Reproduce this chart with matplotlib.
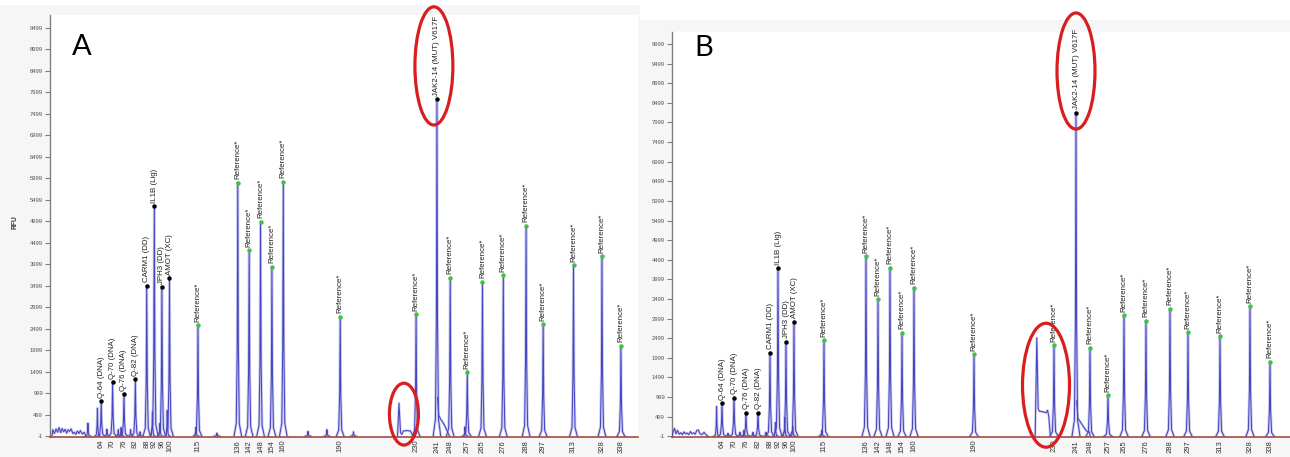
import matplotlib
matplotlib.use("Agg")
import matplotlib.pyplot as plt
from matplotlib.patches import Ellipse, Rectangle

plt.rcParams['font.family'] = ['Liberation Sans', 'DejaVu Sans']

# ---------------- data ----------------
size_ticks = [64, 70, 76, 82, 88, 92, 96, 100, 115, 136, 142, 148, 154, 160,
              190, 230, 241, 248, 257, 265, 276, 288, 297, 313, 328, 338]

gene_sizes = [64, 70, 76, 82, 88, 92, 96, 100, 241]
gene_names = ['Q-64 (DNA)', 'Q-70 (DNA)', 'Q-76 (DNA)', 'Q-82 (DNA)', 'CARM1 (DD)',
              'IL1B (Lig)', 'JPH3 (DD)', 'AMOT (XC)', 'JAK2-14 (MUT) V617F']
gene_rfu_a = [815, 1255, 980, 1330, 3500, 5350, 3470, 3680, 7840]
gene_rfu_b = [845, 985, 595, 595, 2125, 4280, 2405, 2915, 8250]

ref_sizes = [115, 136, 142, 148, 154, 160, 190, 230, 248, 257, 265, 276, 288, 297, 313, 328, 338]
ref_name = 'Reference*'
ref_rfu_a = [2585, 5900, 4330, 4990, 3940, 5920, 2780, 2835, 3690, 1490, 3590, 3750, 4900, 2600, 3980, 4190, 2100]
ref_rfu_b = [2450, 4590, 3490, 4295, 2635, 3790, 2085, 2320, 2250, 1045, 3085, 2940, 3255, 2645, 2550, 3315, 1895]

# minor (unlabelled) peaks and shoulders
minor_a_bp = [57.0, 62.0, 67.0, 73.0, 74.5, 79.5, 84.5, 91.0, 95.0, 98.8, 114.0, 125.0, 173.0, 183.0, 197.0, 255.8]
minor_a_rfu = [300, 650, 160, 150, 200, 150, 100, 565, 300, 600, 215, 70, 110, 150, 100, 217]
minor_b_bp = [61.3, 67.0, 73.0, 75.0, 79.5, 86.0, 90.7, 95.4, 99.4, 114.0]
minor_b_rfu = [755, 75, 100, 150, 100, 100, 350, 485, 260, 160]

# low-level noise at the start of the run
noise_a_bp = [38.0, 38.5, 39.3, 40.2, 41.0, 41.8, 42.6, 43.4, 44.2, 45.0, 45.8, 46.6, 47.4,
              48.2, 49.0, 49.8, 50.6, 51.4, 52.2, 53.0, 54.0, 55.0, 56.0]
noise_a_rfu = [0, 150, 60, 170, 90, 200, 80, 180, 100, 160, 70, 150, 110,
               170, 60, 90, 40, 120, 60, 130, 50, 90, 0]
noise_b_bp = [39.0, 39.6, 40.3, 41.0, 41.8, 42.6, 43.4, 44.2, 45.0, 45.8, 46.6, 47.4,
              48.2, 49.0, 49.8, 50.6, 51.4, 52.2, 53.0, 54.0, 55.0, 56.0, 57.0]
noise_b_rfu = [0, 120, 200, 60, 150, 50, 90, 40, 110, 60, 80, 40,
               120, 60, 90, 50, 150, 160, 60, 40, 100, 40, 0]

# artefact peak (left ellipse) and JAK2 tail
artefact_a_bp = [220.2, 221.0, 221.8, 222.5, 223.3, 225.0, 227.0, 228.0, 228.8]
artefact_a_rfu = [0, 765, 80, 40, 120, 130, 120, 40, 0]
artefact_b_bp = [220.6, 221.4, 222.1, 222.6, 224.5, 226.0, 226.8, 227.4, 228.2]
artefact_b_rfu = [0, 2510, 700, 640, 620, 600, 660, 500, 0]
tail_a_bp = [241.3, 242.0, 243.0, 244.0, 245.0, 246.0, 247.0, 247.6]
tail_a_rfu = [900, 480, 390, 330, 250, 160, 60, 0]
tail_b_bp = [241.3, 242.0, 243.0, 244.0, 245.0, 246.0, 247.0, 247.4, 247.8, 248.0]
tail_b_rfu = [900, 450, 380, 300, 220, 150, 100, 110, 110, 0]

yticks_a = list(range(-1, 9500, 500))
yticks_b = list(range(-1, 10000, 500))

# highlight ellipses (centre bp, centre RFU, width bp, height RFU)
ellipses_a = [(239.4, 8615, 20, 2750), (223.6, 512, 15.3, 1440)]
ellipses_b = [(241.0, 9310, 19, 2960), (226.0, 1300, 23.5, 3160)]

# ---------------- style ----------------
W, H = 1290, 457
TRACE = '#4646c2'
HALO = '#cdcdf0'
BASE = '#a24a44'
PEAK_DX = [-2.0, -0.8, -0.3, 0.0, 0.3, 0.8, 2.0]
PEAK_FR = [0.0, 0.05, 0.35, 1.0, 0.35, 0.05, 0.0]

fig = plt.figure(figsize=(W / 100, H / 100), dpi=100)
fig.patches.append(Rectangle((0, 0), 640 / W, (H - 5) / H, transform=fig.transFigure,
                             facecolor='#f6f6f6', edgecolor='none', zorder=-10))
fig.patches.append(Rectangle((638 / W, 0), (W - 638) / W, (H - 20) / H, transform=fig.transFigure,
                             facecolor='#f6f6f6', edgecolor='none', zorder=-10))


def draw_peak(ax, x, h, scale=1.0):
    xs = [x + d * scale for d in PEAK_DX]
    ys = [h * f for f in PEAK_FR]
    ax.plot(xs, ys, color=HALO, lw=2.0, solid_joinstyle='round', zorder=2)
    ax.plot(xs, ys, color=TRACE, lw=0.75, zorder=3)


def draw_trace(ax, xs, ys):
    ax.plot(xs, ys, color=HALO, lw=1.8, zorder=2)
    ax.plot(xs, ys, color=TRACE, lw=0.75, zorder=3)


def panel(rect, xlim, ylim, yticks, gene_rfu, ref_rfu, minor_bp, minor_rfu,
          noise_bp, noise_rfu, art_bp, art_rfu, tail_bp, tail_rfu, ellipses, letter, letter_xy):
    ax = fig.add_axes(rect)
    ax.set_facecolor('white')
    ax.set_xlim(*xlim)
    ax.set_ylim(*ylim)
    for s in ['top', 'right']:
        ax.spines[s].set_visible(False)
    ax.spines['left'].set_color('#808080')
    ax.spines['left'].set_linewidth(1.0)
    ax.spines['bottom'].set_color(BASE)
    ax.spines['bottom'].set_linewidth(1.2)
    ax.spines['bottom'].set_zorder(5)
    ax.set_yticks(yticks)
    ax.set_yticklabels([str(v) for v in yticks], fontsize=4.2, color='#555555')
    ax.tick_params(axis='y', length=3.5, width=0.8, color='#808080', pad=1.5)
    ax.set_xticks(size_ticks)
    ax.set_xticklabels([str(v) for v in size_ticks], rotation=90, fontsize=5.5, color='#333333')
    ax.tick_params(axis='x', length=0, pad=2)

    draw_trace(ax, noise_bp, noise_rfu)
    for x, h in zip(minor_bp, minor_rfu):
        draw_peak(ax, x, h, 0.7)
    draw_trace(ax, art_bp, art_rfu)
    draw_trace(ax, tail_bp, tail_rfu)
    for x, h in zip(gene_sizes, gene_rfu):
        draw_peak(ax, x, h)
    for x, h in zip(ref_sizes, ref_rfu):
        draw_peak(ax, x, h)

    ax.plot(gene_sizes, gene_rfu, 'o', ms=2.2, color='black', zorder=6)
    ax.plot(ref_sizes, ref_rfu, 'o', ms=2.2, color='#3fc43f', zorder=6)
    for x, h, name in zip(gene_sizes, gene_rfu, gene_names):
        ax.annotate(name, (x, h), xytext=(0, 2.5), textcoords='offset points', rotation=90,
                    ha='center', va='bottom', fontsize=5.7, color='#222222', zorder=7)
    for x, h in zip(ref_sizes, ref_rfu):
        ax.annotate(ref_name, (x, h), xytext=(0, 2.5), textcoords='offset points', rotation=90,
                    ha='center', va='bottom', fontsize=5.7, color='#222222', zorder=7)

    for cx, cy, w, hgt in ellipses:
        ax.add_patch(Ellipse((cx, cy), w, hgt, fill=False, edgecolor='#d81e1e', lw=2.3,
                             clip_on=False, zorder=8))
    fig.text(letter_xy[0] / W, 1 - letter_xy[1] / H, letter, fontsize=21, family='Lato',
             ha='center', va='center', color='black')
    return ax


ax_a = panel([50 / W, 20 / H, 588 / W, 422 / H], (37, 347), (-20, 9800), yticks_a,
             gene_rfu_a, ref_rfu_a, minor_a_bp, minor_a_rfu, noise_a_bp, noise_a_rfu,
             artefact_a_bp, artefact_a_rfu, tail_a_bp, tail_a_rfu, ellipses_a, 'A', (82, 47))
ax_b = panel([672 / W, 20 / H, (W - 672) / W, 405 / H], (39, 348), (-20, 10305), yticks_b,
             gene_rfu_b, ref_rfu_b, minor_b_bp, minor_b_rfu, noise_b_bp, noise_b_rfu,
             artefact_b_bp, artefact_b_rfu, tail_b_bp, tail_b_rfu, ellipses_b, 'B', (704, 48))

fig.text(15 / W, 1 - 222 / H, 'RFU', rotation=90, fontsize=4.8, fontweight='bold',
         ha='center', va='center', color='#333333')

fig.savefig('out.png', dpi=100, facecolor='white')
